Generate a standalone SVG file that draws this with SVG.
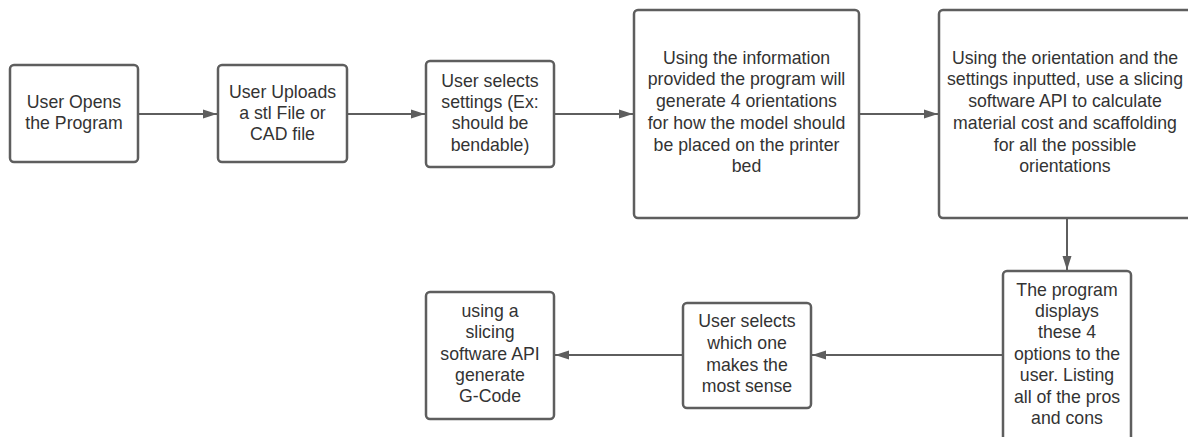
<svg xmlns="http://www.w3.org/2000/svg" width="1188" height="437" viewBox="0 0 1188 437">
<defs>
<style>
.box{fill:#ffffff;stroke:#5e5e5e;stroke-width:2.5}
.t{font-family:"Liberation Sans",Arial,sans-serif;font-size:17.7px;fill:#333333;text-anchor:middle}
.c{fill:none;stroke:#5e5e5e;stroke-width:2}
</style>
<marker id="ah" markerUnits="userSpaceOnUse" markerWidth="14" markerHeight="10" refX="14" refY="5" orient="auto">
<path d="M0,0.5 L14,5 L0,9.5 z" fill="#5e5e5e"/>
</marker>
</defs>
<rect width="1188" height="437" fill="#ffffff"/>
<g id="connectors">
<line class="c" x1="138" y1="114" x2="217" y2="114" marker-end="url(#ah)"/>
<line class="c" x1="347" y1="114" x2="425" y2="114" marker-end="url(#ah)"/>
<line class="c" x1="554" y1="114" x2="633" y2="114" marker-end="url(#ah)"/>
<line class="c" x1="859" y1="114" x2="938" y2="114" marker-end="url(#ah)"/>
<line class="c" x1="1067" y1="218" x2="1067" y2="270" marker-end="url(#ah)"/>
<line class="c" x1="1003" y1="355" x2="812" y2="355" marker-end="url(#ah)"/>
<line class="c" x1="683" y1="355" x2="555" y2="355" marker-end="url(#ah)"/>
</g>
<g id="n1">
<rect class="box" x="10" y="65" width="128" height="97" rx="4"/>
<text class="t" x="74" y="108">User Opens</text>
<text class="t" x="74" y="129">the Program</text>
</g>
<g id="n2">
<rect class="box" x="218" y="65" width="129" height="97" rx="4"/>
<text class="t" x="282.5" y="98">User Uploads</text>
<text class="t" x="282.5" y="119">a stl File or</text>
<text class="t" x="282.5" y="140">CAD file</text>
</g>
<g id="n3">
<rect class="box" x="426" y="61" width="128" height="106" rx="4"/>
<text class="t" x="490" y="86.5">User selects</text>
<text class="t" x="490" y="108">settings (Ex:</text>
<text class="t" x="490" y="129">should be</text>
<text class="t" x="490" y="150.5">bendable)</text>
</g>
<g id="n4">
<rect class="box" x="634" y="10" width="225" height="208" rx="4"/>
<text class="t" x="746.5" y="63.5">Using the information</text>
<text class="t" x="746.5" y="85">provided the program will</text>
<text class="t" x="746.5" y="107">generate 4 orientations</text>
<text class="t" x="746.5" y="129">for how the model should</text>
<text class="t" x="746.5" y="150.5">be placed on the printer</text>
<text class="t" x="746.5" y="172">bed</text>
</g>
<g id="n5">
<rect class="box" x="939" y="10" width="256" height="208" rx="4"/>
<text class="t" x="1065" y="63.5">Using the orientation and the</text>
<text class="t" x="1065" y="85">settings inputted, use a slicing</text>
<text class="t" x="1065" y="107">software API to calculate</text>
<text class="t" x="1065" y="129">material cost and scaffolding</text>
<text class="t" x="1065" y="150.5">for all the possible</text>
<text class="t" x="1065" y="172">orientations</text>
</g>
<g id="n6">
<rect class="box" x="1003" y="271" width="128" height="172" rx="4"/>
<text class="t" x="1067" y="295.5">The program</text>
<text class="t" x="1067" y="317">displays</text>
<text class="t" x="1067" y="338">these 4</text>
<text class="t" x="1067" y="359.5">options to the</text>
<text class="t" x="1067" y="381">user. Listing</text>
<text class="t" x="1067" y="403">all of the pros</text>
<text class="t" x="1067" y="424">and cons</text>
</g>
<g id="n7">
<rect class="box" x="683" y="303" width="128" height="105" rx="4"/>
<text class="t" x="747" y="327">User selects</text>
<text class="t" x="747" y="349">which one</text>
<text class="t" x="747" y="370.5">makes the</text>
<text class="t" x="747" y="392">most sense</text>
</g>
<g id="n8">
<rect class="box" x="426" y="292" width="128" height="127" rx="4"/>
<text class="t" x="490" y="317">using a</text>
<text class="t" x="490" y="338">slicing</text>
<text class="t" x="490" y="360">software API</text>
<text class="t" x="490" y="381">generate</text>
<text class="t" x="490" y="402">G-Code</text>
</g>
</svg>
